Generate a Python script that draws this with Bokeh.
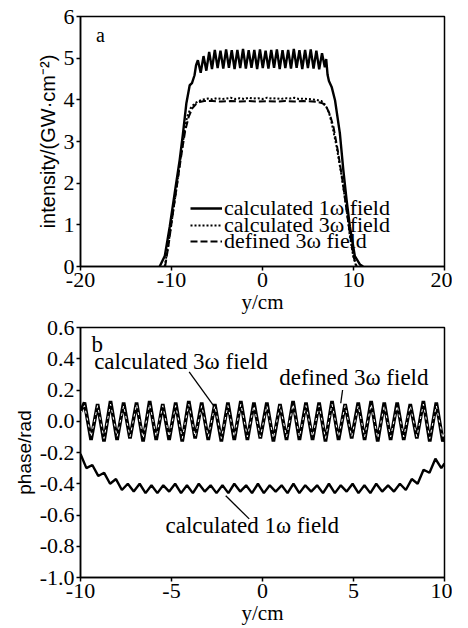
from bokeh.plotting import figure
from bokeh.models import (Range1d, Legend, LegendItem, Label, Arrow,
                          PrintfTickFormatter, FixedTicker)
from bokeh.layouts import column
from bokeh.embed import file_html
from bokeh.resources import INLINE

# ---------------- data: panel a (intensity, GW/cm^2) ----------------
int1w_y = [-11.30, -10.74, -10.19, -9.65, -9.10, -8.74, -8.37, -8.00, -7.75, -7.47, -7.30,
           -7.10, -6.79, -6.48, -6.17, -5.86, -5.55, -5.24, -4.93, -4.62, -4.31, -4.00,
           -3.69, -3.38, -3.07, -2.76, -2.45, -2.14, -1.83, -1.52, -1.21, -0.90, -0.59,
           -0.28, 0.03, 0.34, 0.65, 0.96, 1.27, 1.58, 1.89, 2.20, 2.51, 2.82, 3.13, 3.44,
           3.75, 4.06, 4.37, 4.68, 4.99, 5.30, 5.61, 5.92, 6.23, 6.54, 6.85,
           7.00, 7.15, 7.30, 7.60, 7.97, 8.50, 8.88, 9.24, 9.60, 10.15, 10.70, 11.06]
int1w_v = [0.00, 0.25, 0.96, 1.76, 2.56, 3.19, 3.91, 4.35, 4.40, 4.59, 4.83,
           4.95, 4.65, 5.05, 4.70, 5.15, 4.74, 5.20, 4.76, 5.18, 4.75, 5.21, 4.77,
           5.19, 4.74, 5.20, 4.76, 5.22, 4.75, 5.19, 4.77, 5.20, 4.74, 5.21, 4.76,
           5.18, 4.75, 5.20, 4.77, 5.21, 4.74, 5.19, 4.76, 5.20, 4.75, 5.22, 4.77,
           5.19, 4.74, 5.20, 4.76, 5.21, 4.75, 5.18, 4.73, 5.12, 4.78,
           4.98, 4.60, 4.45, 4.31, 3.99, 3.20, 2.32, 1.60, 0.96, 0.25, 0.05, 0.00]

int3w_calc_y = [-10.75, -10.40, -10.00, -9.50, -9.00, -8.60, -8.30, -7.90, -7.47, -7.00,
                -6.50, -6.00, -5.50, -5.00, -4.50, -4.00, -3.50, -3.00, -2.50, -2.00,
                -1.50, -1.00, -0.50, 0.00, 0.50, 1.00, 1.50, 2.00, 2.50, 3.00, 3.50,
                4.00, 4.50, 5.00, 5.50, 5.90, 6.50, 6.90, 7.30, 7.60, 8.15, 8.70, 9.25,
                9.60, 9.97, 10.30]
int3w_calc_v = [0.00, 0.45, 1.05, 1.80, 2.60, 3.20, 3.58, 3.80, 3.91, 3.97,
                4.01, 4.03, 4.01, 4.04, 4.02, 4.03, 4.05, 4.02, 4.04, 4.02,
                4.05, 4.03, 4.04, 4.02, 4.05, 4.03, 4.04, 4.02, 4.04, 4.03, 4.05,
                4.02, 4.03, 4.02, 4.01, 4.00, 3.97, 3.88, 3.70, 3.45, 2.87, 2.16, 1.36,
                0.73, 0.25, 0.00]

int3w_def_y = [-10.70, -10.30, -9.90, -9.40, -8.90, -8.50, -8.10, -7.70, -7.30, -6.90,
               -6.40, -5.50, -4.50, -3.50, -2.50, -1.50, -0.50, 0.50, 1.50, 2.50,
               3.50, 4.50, 5.50, 6.00, 6.60, 7.00, 7.40, 7.80, 8.30, 8.80,
               9.30, 9.70, 10.05, 10.35]
int3w_def_v = [0.00, 0.55, 1.20, 1.95, 2.70, 3.25, 3.60, 3.80, 3.90, 3.95,
               3.97, 3.97, 3.96, 3.97, 3.96, 3.97, 3.96, 3.97, 3.96, 3.97,
               3.96, 3.97, 3.96, 3.95, 3.92, 3.84, 3.65, 3.35, 2.75, 2.05,
               1.25, 0.65, 0.20, 0.00]

# ---------------- data: panel b (phase, rad) ----------------
ph3w_y = [-10.00, -9.78, -9.42, -9.06, -8.71, -8.35, -7.99, -7.63, -7.28, -6.92, -6.56,
          -6.20, -5.84, -5.48, -5.13, -4.77, -4.41, -4.05, -3.70, -3.34, -2.98, -2.62,
          -2.26, -1.90, -1.55, -1.19, -0.83, -0.47, -0.12, 0.24, 0.60, 0.96, 1.32, 1.68,
          2.03, 2.39, 2.75, 3.11, 3.46, 3.82, 4.18, 4.54, 4.90, 5.26, 5.61, 5.97, 6.33,
          6.69, 7.04, 7.40, 7.76, 8.12, 8.48, 8.84, 9.19, 9.55, 9.91, 10.00]
ph3w_calc = [0.06, 0.12, -0.12, 0.11, -0.13, 0.13, -0.12, 0.12, -0.11, 0.12, -0.13,
             0.13, -0.12, 0.11, -0.12, 0.12, -0.13, 0.13, -0.11, 0.12, -0.12, 0.11,
             -0.13, 0.12, -0.12, 0.13, -0.12, 0.12, -0.11, 0.12, -0.13, 0.11, -0.12,
             0.13, -0.12, 0.12, -0.12, 0.12, -0.13, 0.13, -0.12, 0.11, -0.11, 0.12,
             -0.12, 0.13, -0.13, 0.12, -0.12, 0.12, -0.12, 0.11, -0.11, 0.13, -0.13,
             0.12, -0.13, -0.08]
ph3w_def = [0.05, 0.10, -0.10, 0.10, -0.11, 0.11, -0.10, 0.10, -0.10, 0.11, -0.11,
            0.11, -0.10, 0.10, -0.10, 0.10, -0.11, 0.11, -0.10, 0.10, -0.10, 0.10,
            -0.11, 0.10, -0.10, 0.11, -0.10, 0.10, -0.10, 0.10, -0.11, 0.10, -0.10,
            0.11, -0.10, 0.10, -0.10, 0.10, -0.11, 0.11, -0.10, 0.10, -0.10, 0.10,
            -0.10, 0.11, -0.11, 0.10, -0.10, 0.10, -0.10, 0.10, -0.10, 0.11, -0.11,
            0.10, -0.11, -0.07]

ph1w_y = [-10.00, -9.675, -9.35, -9.025, -8.70, -8.375, -8.05, -7.725, -7.40, -7.075,
          -6.75, -6.425, -6.10, -5.775, -5.45, -5.125, -4.80, -4.475, -4.15, -3.825,
          -3.50, -3.175, -2.85, -2.525, -2.20, -1.875, -1.55, -1.225, -0.90, -0.575,
          -0.25, 0.075, 0.40, 0.725, 1.05, 1.375, 1.70, 2.025, 2.35, 2.675, 3.00,
          3.325, 3.65, 3.975, 4.30, 4.625, 4.95, 5.275, 5.60, 5.925, 6.25, 6.575,
          6.90, 7.225, 7.55, 7.875, 8.20, 8.525, 8.85, 9.175, 9.50, 9.825, 10.00]
ph1w_v = [-0.21, -0.30, -0.28, -0.35, -0.33, -0.40, -0.37, -0.44, -0.40, -0.45,
          -0.40, -0.46, -0.41, -0.46, -0.41, -0.45, -0.40, -0.46, -0.41, -0.46,
          -0.40, -0.45, -0.41, -0.46, -0.41, -0.46, -0.40, -0.45, -0.41, -0.46,
          -0.40, -0.46, -0.41, -0.45, -0.41, -0.46, -0.40, -0.46, -0.41, -0.45,
          -0.41, -0.46, -0.40, -0.46, -0.41, -0.45, -0.40, -0.46, -0.41, -0.46,
          -0.40, -0.45, -0.41, -0.45, -0.40, -0.44, -0.37, -0.40, -0.31, -0.33,
          -0.24, -0.30, -0.27]

ticks_a_x = [-20, -10, 0, 10, 20]
ticks_a_y = [0, 1, 2, 3, 4, 5, 6]
ticks_b_x = [-10, -5, 0, 5, 10]
ticks_b_y = [-1.0, -0.8, -0.6, -0.4, -0.2, 0.0, 0.2, 0.4, 0.6]

SERIF = "Liberation Serif"
SANS = "Liberation Sans"


def style(p, xt, yt, xfmt, yfmt, tick_size):
    p.xgrid.visible = False
    p.ygrid.visible = False
    p.outline_line_color = "black"
    p.outline_line_width = 1.5
    p.background_fill_color = "white"
    p.border_fill_color = "white"
    p.xaxis.ticker = FixedTicker(ticks=xt)
    p.yaxis.ticker = FixedTicker(ticks=yt)
    p.xaxis.formatter = PrintfTickFormatter(format=xfmt)
    p.yaxis.formatter = PrintfTickFormatter(format=yfmt)
    for ax in (p.xaxis[0], p.yaxis[0]):
        ax.axis_line_width = 1.5
        ax.axis_line_color = "black"
        ax.major_tick_out = 4
        ax.major_tick_in = 0
        ax.major_tick_line_width = 1.5
        ax.minor_tick_out = 0
        ax.minor_tick_in = 0
        ax.major_label_text_font = SERIF
        ax.major_label_text_font_size = tick_size
        ax.major_label_text_color = "black"
        ax.major_label_standoff = 2
        ax.axis_label_text_font_style = "normal"
        ax.axis_label_text_color = "black"
        ax.axis_label_standoff = 2
    p.xaxis.axis_label_text_font = SERIF
    p.xaxis.axis_label_text_font_size = "21px"
    p.xaxis.axis_label_standoff = 0
    p.yaxis.axis_label_text_font = SANS


# ---------------- panel a ----------------
p1 = figure(width=452, height=316, output_backend="svg", toolbar_location=None,
            x_range=Range1d(-20, 20), y_range=Range1d(0, 6),
            min_border_left=77, min_border_right=8, min_border_top=16, min_border_bottom=49)
style(p1, ticks_a_x, ticks_a_y, "%d", "%d", "22px")
p1.xaxis.axis_label = "y/cm"
p1.yaxis.axis_label = "intensity/(GW·cm⁻²)"
p1.yaxis.axis_label_text_font_size = "20px"

r1 = p1.line(int1w_y, int1w_v, line_color="black", line_width=2.4)
r2 = p1.line(int3w_calc_y, int3w_calc_v, line_color="black", line_width=2.0, line_dash="2 2")
r3 = p1.line(int3w_def_y, int3w_def_v, line_color="black", line_width=2.0, line_dash="7 3")

legend_rows = [("calculated 1ω field", r1, 45), ("calculated 3ω field", r2, 28),
               ("defined 3ω field", r3, 12)]
for text, rend, ypos in legend_rows:
    lg = Legend(items=[LegendItem(label=text, renderers=[rend])], location=(110, ypos),
                border_line_color=None, background_fill_alpha=0, padding=0, margin=0,
                glyph_width=32, glyph_height=16, label_height=16, label_standoff=2,
                label_text_font=SERIF, label_text_font_size="22px",
                label_text_color="black")
    p1.add_layout(lg, "center")

p1.add_layout(Label(x=-18.3, y=5.55, text="a", text_font=SERIF, text_font_size="20px",
                    text_baseline="middle", text_color="black"))

# ---------------- panel b ----------------
p2 = figure(width=452, height=311, output_backend="svg", toolbar_location=None,
            x_range=Range1d(-10, 10), y_range=Range1d(-1.0, 0.6),
            min_border_left=80, min_border_right=8, min_border_top=11, min_border_bottom=48)
style(p2, ticks_b_x, ticks_b_y, "%d", "%.1f", "22px")
p2.xaxis.axis_label = "y/cm"
p2.yaxis.axis_label = "phase/rad"
p2.yaxis.axis_label_text_font_size = "19px"

p2.line(ph1w_y, ph1w_v, line_color="black", line_width=2.4)
p2.line(ph3w_y, ph3w_calc, line_color="black", line_width=3.6)
p2.line(ph3w_y, ph3w_def, line_color="white", line_width=1.0, line_dash="3 4")

ann_font = dict(text_font=SERIF, text_font_size="23px", text_baseline="middle",
                text_color="black")
p2.add_layout(Label(x=-9.4, y=0.49, text="b", **ann_font))
p2.add_layout(Label(x=-9.25, y=0.38, text="calculated 3ω field", **ann_font))
p2.add_layout(Label(x=0.92, y=0.28, text="defined 3ω field", **ann_font))
p2.add_layout(Label(x=-5.33, y=-0.67, text="calculated 1ω field", **ann_font))

leaders = [(-4.03, 0.316, -2.65, 0.094), (4.40, 0.20, 4.30, 0.115),
           (-0.73, -0.625, -2.02, -0.477)]
for xs, ys, xe, ye in leaders:
    p2.add_layout(Arrow(end=None, x_start=xs, y_start=ys, x_end=xe, y_end=ye,
                        line_color="black", line_width=1.3))

layout = column(p1, p2, spacing=0)
open("out.html", "w").write(file_html(layout, INLINE))
